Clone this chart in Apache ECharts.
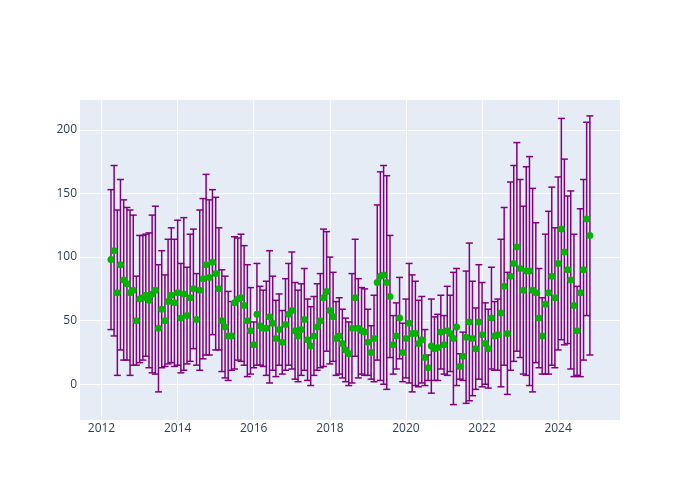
<!DOCTYPE html>
<html><head><meta charset="utf-8">
<script src="https://cdn.jsdelivr.net/npm/echarts@6/dist/echarts.min.js"></script>
<style>html,body{margin:0;padding:0;background:#fff}#c{width:700px;height:500px}</style>
</head><body><div id="c"></div>
<script>
// monthly series starting April 2012
const firstYear = 2012;
const firstMonth = 4;
const values = [
  98,105,72,94,82,79,72,74,50,67,68,70,
  66,71,74,44,59,50,65,70,64,72,52,71,
  54,68,75,51,74,83,94,84,96,87,75,50,
  45,38,38,64,67,68,62,50,42,31,55,46,
  44,44,53,48,36,43,33,47,55,58,42,38,
  43,51,35,30,38,45,50,68,73,58,53,36,
  38,32,27,24,44,68,44,42,41,33,25,36,
  80,85,86,80,69,31,38,52,25,36,48,40,
  40,32,35,21,13,30,28,29,41,31,42,40,
  36,45,14,22,37,49,36,28,49,39,32,28,
  52,38,39,56,77,40,85,95,108,91,74,89,
  89,74,72,52,38,63,72,85,68,95,122,104,
  90,82,62,42,72,90,130,117
];
const errors = [
  55,67,65,67,63,60,65,59,35,50,49,48,
  53,62,66,50,46,36,49,53,50,57,43,60,
  38,50,47,36,63,63,71,61,57,60,48,40,
  40,35,27,52,48,50,47,44,34,18,40,31,
  30,37,52,37,30,28,25,36,40,46,38,36,
  36,40,32,31,31,34,37,54,47,42,35,29,
  30,27,25,25,43,46,39,34,34,26,21,34,
  61,82,86,84,48,23,26,32,23,31,47,46,
  41,34,34,22,10,37,25,26,29,23,35,30,
  52,46,10,19,52,62,45,32,45,41,32,31,
  40,27,28,58,62,48,74,77,82,70,66,82,
  90,80,55,39,30,55,64,70,55,68,87,73,
  58,70,56,35,66,71,76,94
];
const xTickYears = [2012, 2014, 2016, 2018, 2020, 2022, 2024];
const yTicks = [0, 50, 100, 150, 200];

const DAY = 86400000;
const months = values.map((v, i) => {
  const m = firstMonth - 1 + i;
  return Date.UTC(firstYear + Math.floor(m / 12), m % 12, 1);
});
const xMin = Date.UTC(2012, 0, 1) - 206.4 * DAY;
const xMax = Date.UTC(2024, 0, 1) + 594 * DAY;
const xTickVals = xTickYears.map(y => Date.UTC(y, 0, 1));

const errData = months.map((t, i) => [t, values[i], errors[i]]);
const ptData = months.map((t, i) => [t, values[i]]);

const chart = echarts.init(document.getElementById('c'), null, {renderer: 'canvas'});
chart.setOption({
  animation: false,
  backgroundColor: '#ffffff',
  textStyle: {fontFamily: 'Open Sans'},
  grid: {left: 80, right: 80, top: 100, bottom: 80, show: true, backgroundColor: '#E5ECF6', borderWidth: 0},
  xAxis: {
    type: 'value', min: xMin, max: xMax, scale: true,
    axisLine: {show: false}, axisTick: {show: false, customValues: xTickVals},
    axisLabel: {customValues: xTickVals, color: '#2a3f5f', fontSize: 12, fontFamily: 'Open Sans', margin: 3,
      formatter: v => String(new Date(v).getUTCFullYear())},
    splitLine: {show: true, lineStyle: {color: '#ffffff', width: 1}}
  },
  yAxis: {
    type: 'value', min: -28.1, max: 223.5,
    axisLine: {show: false}, axisTick: {show: false, customValues: yTicks},
    axisLabel: {customValues: yTicks, color: '#2a3f5f', fontSize: 12, fontFamily: 'Open Sans', margin: 3},
    splitLine: {show: true, lineStyle: {color: '#ffffff', width: 1}}
  },
  series: [
    {
      type: 'custom', data: errData, encode: {x: 0, y: 1}, z: 2,
      renderItem: (params, api) => {
        const t = api.value(0), v = api.value(1), e = api.value(2);
        const top = api.coord([t, v + e]);
        const bot = api.coord([t, v - e]);
        const w = 3.5;
        const st = {stroke: '#800080', lineWidth: 1.5};
        return {type: 'group', children: [
          {type: 'line', shape: {x1: top[0], y1: top[1], x2: bot[0], y2: bot[1]}, style: st},
          {type: 'line', shape: {x1: top[0] - w, y1: top[1], x2: top[0] + w, y2: top[1]}, style: st},
          {type: 'line', shape: {x1: bot[0] - w, y1: bot[1], x2: bot[0] + w, y2: bot[1]}, style: st}
        ]};
      }
    },
    {
      type: 'scatter', data: ptData, symbol: 'circle', symbolSize: 7, z: 3,
      itemStyle: {color: '#00b400', borderWidth: 0, opacity: 1}
    }
  ]
});
</script></body></html>
